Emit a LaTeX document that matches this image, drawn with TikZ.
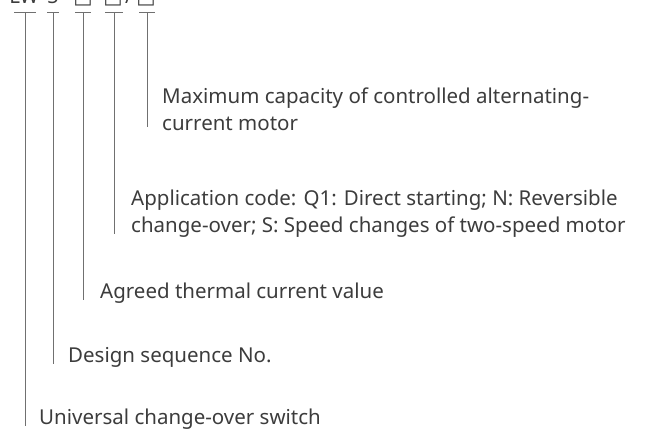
\documentclass[tikz,border=0pt]{standalone}
\usepackage{fontspec}
\setmainfont{Noto Sans}
\newfontfamily\boxfont{DejaVu Sans}
\usetikzlibrary{positioning,calc}
\definecolor{codeText}{HTML}{3C3C3C}
\definecolor{codeLine}{HTML}{707070}
\tikzset{
  desc/.style={anchor=base west, inner sep=0pt, align=left, text=codeText,
    font=\fontsize{20.5}{27}\selectfont},
  head/.style={anchor=base, inner sep=0pt, text=codeText,
    font=\fontsize{20.5}{27}\selectfont},
  lead/.style={draw=codeLine, line width=0.8pt}
}

\begin{document}
\begin{tikzpicture}[x=1pt,y=-1pt]
  \useasboundingbox (0,0) rectangle (646,431);

  % model code, cut at the top edge
  \node[head] (cLW)  at (24,3)  {LW};
  \node[head] (c5)   at (53,3)  {5};
  \node[head] (cB1)  at (83,3)  {\boxfont □};
  \node[head] (cB2)  at (113,3) {\boxfont □};
  \node[head] (cSl)  at (129,3) {/};
  \node[head] (cB3)  at (146,3) {\boxfont □};

  % tick points
  \coordinate (t1) at (25,12);
  \coordinate (t2) at (53,12);
  \coordinate (t3) at (83,12);
  \coordinate (t4) at (114,12);
  \coordinate (t5) at (147,12);

  % descriptions (base = last line)
  \node[desc] (dMax) at (162,130) {Maximum capacity of controlled alternating-\\current motor};
  \node[desc] (dApp) at (131,232) {Application code: Q1: Direct starting; N: Reversible\\change-over; S: Speed changes of two-speed motor};
  \node[desc] (dAgr) at (100,298) {Agreed thermal current value};
  \node[desc] (dDes) at (68,362)  {Design sequence No.};
  \node[desc] (dUni) at (39,424)  {Universal change-over switch};

  % leaders
  \foreach \t/\d/\w in {t1/dUni/11, t2/dDes/6, t3/dAgr/8, t4/dApp/9, t5/dMax/8}{
    \draw[lead] ($(\t)+(-\w,0)$) -- ($(\t)+(\w,0)$);
    \draw[lead] (\t) -- ($(\t |- \d.south)+(0,-3)$);
  }
\end{tikzpicture}
\end{document}
